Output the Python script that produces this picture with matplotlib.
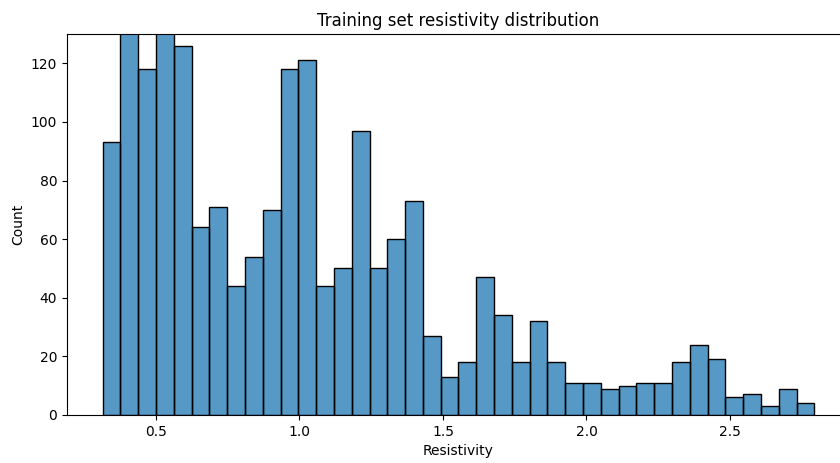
import matplotlib.pyplot as plt
import numpy as np

# resistivity histogram: 40 equal bins between min and max
res_min = 0.314
res_max = 2.794
counts = [93, 140, 118, 135, 126, 64, 71, 44, 54, 70,
          118, 121, 44, 50, 97, 50, 60, 73, 27, 13,
          18, 47, 34, 18, 32, 18, 11, 11, 9, 10,
          11, 11, 18, 24, 19, 6, 7, 3, 9, 4]

edges = np.linspace(res_min, res_max, len(counts) + 1)

fig = plt.figure(figsize=(8.4, 4.63), dpi=100)
ax = fig.add_axes([0.0798, 0.1037, 0.932, 0.8229])

ax.bar(edges[:-1], counts, width=np.diff(edges), align='edge',
       color='#1f77b4', alpha=0.75, edgecolor='none')
# bar outlines drawn fully opaque
ax.bar(edges[:-1], counts, width=np.diff(edges), align='edge',
       fill=False, edgecolor='black', linewidth=1)

ax.set_xlim(res_min - 0.05 * (res_max - res_min), res_max + 0.05 * (res_max - res_min))
ax.set_ylim(0, 130)
ax.set_xticks([0.5, 1.0, 1.5, 2.0, 2.5])
ax.set_title('Training set resistivity distribution')
ax.set_xlabel('Resistivity')
ax.set_ylabel('Count')

fig.savefig('out.png', dpi=100)
